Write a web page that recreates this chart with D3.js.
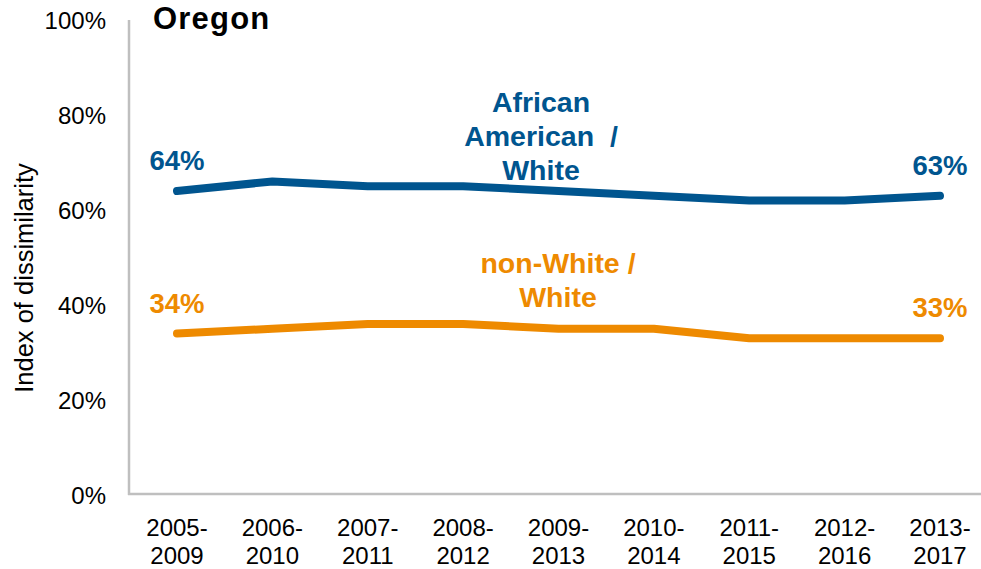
<!DOCTYPE html>
<html>
<head>
<meta charset="utf-8">
<script src="https://cdn.jsdelivr.net/npm/d3@7"></script>
<style>
  body { margin: 0; background: #fff; }
  svg { display: block; font-family: Arial, "Liberation Sans", sans-serif; }
</style>
</head>
<body>
<div class="container"></div>
<script>
var periodStart = ["2005-", "2006-", "2007-", "2008-", "2009-", "2010-", "2011-", "2012-", "2013-"];
var periodEnd = ["2009", "2010", "2011", "2012", "2013", "2014", "2015", "2016", "2017"];
var africanAmerican = [64, 66, 65, 65, 64, 63, 62, 62, 63];
var nonWhite = [34, 35, 36, 36, 35, 35, 33, 33, 33];
var yTicks = [0, 20, 40, 60, 80, 100];

var blue = "#00558F";
var orange = "#EE8A00";
var grey = "#BFBFBF";

var W = 981, H = 569;
var svg = d3.select(".container").append("svg").attr("width", W).attr("height", H);

var x = d3.scalePoint().domain(d3.range(periodStart.length)).range([177, 940]);
var y = d3.scaleLinear().domain([0, 100]).range([495, 20]);

// axes lines
svg.append("line").attr("x1", 129).attr("x2", 129).attr("y1", y(100)).attr("y2", y(0))
   .attr("stroke", grey).attr("stroke-width", 2.5);
svg.append("line").attr("x1", 128).attr("x2", 985).attr("y1", y(0) - 1).attr("y2", y(0) - 1)
   .attr("stroke", grey).attr("stroke-width", 2.5);

// y tick labels
svg.selectAll(".ytick").data(yTicks).enter().append("text")
   .attr("x", 106).attr("y", function(d){ return y(d); })
   .attr("dy", "0.36em").attr("text-anchor", "end")
   .attr("font-size", 24).attr("fill", "#000")
   .text(function(d){ return d + "%"; });

// x tick labels
var xl = svg.selectAll(".xtick").data(periodStart).enter().append("text")
   .attr("text-anchor", "middle").attr("font-size", 24).attr("fill", "#000");
xl.append("tspan").attr("x", function(d, i){ return x(i); }).attr("y", 536).text(function(d){ return d; });
xl.append("tspan").attr("x", function(d, i){ return x(i); }).attr("y", 564).text(function(d, i){ return periodEnd[i]; });

// y axis title
svg.append("text").attr("transform", "translate(33,278) rotate(-90)")
   .attr("text-anchor", "middle").attr("font-size", 25.5).attr("fill", "#000")
   .text("Index of dissimilarity");

// title
svg.append("text").attr("x", 153).attr("y", 28.5).attr("font-size", 31).attr("font-weight", "bold")
   .attr("letter-spacing", 1.2).attr("fill", "#000").text("Oregon");

var line = d3.line().x(function(d, i){ return x(i); }).y(function(d){ return y(d); });

function drawSeries(vals, color, labelDy, name, nameX, nameY){
  svg.append("path").datum(vals).attr("d", line)
     .attr("fill", "none").attr("stroke", color).attr("stroke-width", 8)
     .attr("stroke-linecap", "round").attr("stroke-linejoin", "round");
  var ends = [0, vals.length - 1];
  svg.selectAll(null).data(ends).enter().append("text")
     .attr("x", function(i){ return x(i); })
     .attr("y", function(i){ return y(vals[i]) - labelDy; })
     .attr("text-anchor", "middle").attr("font-size", 27.5).attr("font-weight", "bold")
     .attr("fill", color).text(function(i){ return vals[i] + "%"; });
  var t = svg.append("text").attr("text-anchor", "middle").attr("font-size", 28.5)
     .attr("font-weight", "bold").attr("fill", color);
  name.forEach(function(s, k){
    t.append("tspan").attr("x", nameX).attr("y", nameY + k * 34).text(s);
  });
}

drawSeries(africanAmerican, blue, 21, ["African", "American\u00a0\u00a0/", "White"], 541, 112);
drawSeries(nonWhite, orange, 21, ["non-White /", "White"], 558, 273);
</script>
</body>
</html>
